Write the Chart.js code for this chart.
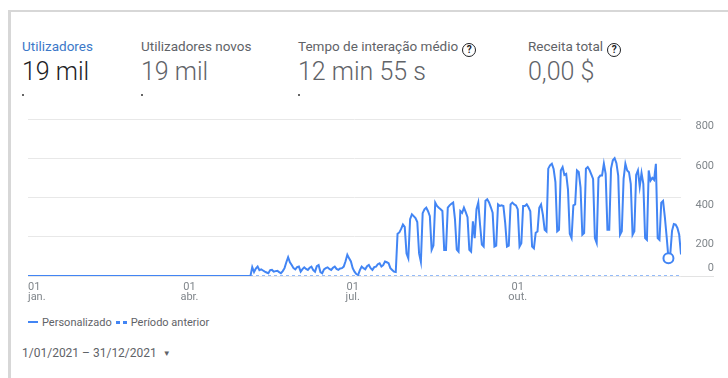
<!DOCTYPE html>
<html lang="pt">
<head>
<meta charset="utf-8">
<script src="https://cdn.jsdelivr.net/npm/chart.js@4.4.1/dist/chart.umd.min.js"></script>
<style>
  html, body { margin: 0; padding: 0; background: #fff; }
  body { width: 728px; height: 378px; position: relative; overflow: hidden; font-family: Roboto, 'Noto Sans', sans-serif; }
  .card { position: absolute; left: 8px; top: 10px; width: 760px; height: 400px; border-top: 2px solid #d7d7d7; border-left: 3px solid #d7d7d7; }
  .kpi { position: absolute; }
  .kpi .t { position: absolute; top: 28px; white-space: nowrap; font-size: 13.5px; line-height: 16px; color: #5f6368; }
  .kpi .v { position: absolute; top: 47px; white-space: nowrap; font-size: 25px; line-height: 30px; font-weight: 300; color: #5f6368; }
  .kpi .d { position: absolute; top: 84px; width: 2px; height: 2px; background: #666; }
  .kpi.on .t { color: #3c78c8; }
  .kpi.on .v { color: #202124; }
  .help { display: inline-block; width: 12px; height: 12px; border: 1.6px solid #202124; border-radius: 50%;
          font-size: 10px; line-height: 12px; text-align: center; font-weight: 700; color: #202124; margin-left: 4px; vertical-align: -2px; }
  #wrap { position: absolute; left: 0; top: 100px; width: 728px; height: 212px; }
  .legend { position: absolute; left: 28px; top: 316px; font-size: 11px; line-height: 14px; color: #5f6368; white-space: nowrap; }
  .sw { display: inline-block; vertical-align: middle; margin-right: 4px; position: relative; top: -1px; }
  .sw.solid { width: 10px; height: 2px; background: #4285f4; }
  .sw.dash { width: 11px; height: 3px; background: linear-gradient(90deg, #4285f4 0 4px, transparent 4px 7px, #4285f4 7px 11px); margin-left: 4px; }
  .range { position: absolute; left: 22px; top: 346px; font-size: 12px; line-height: 14px; color: #5f6368; white-space: nowrap; }
  .range .arr { font-size: 8px; margin-left: 6px; vertical-align: 1px; }
</style>
</head>
<body>
<div class="card"></div>

<div class="kpi on" style="left:22px;top:10px"><div class="t">Utilizadores</div><div class="v">19 mil</div><div class="d"></div></div>
<div class="kpi" style="left:141px;top:10px"><div class="t">Utilizadores novos</div><div class="v">19 mil</div><div class="d"></div></div>
<div class="kpi" style="left:298px;top:10px"><div class="t">Tempo de interação médio<span class="help">?</span></div><div class="v">12 min 55 s</div><div class="d"></div></div>
<div class="kpi" style="left:528px;top:10px"><div class="t">Receita total<span class="help">?</span></div><div class="v">0,00 $</div></div>

<div id="wrap"><canvas id="c"></canvas></div>

<div class="legend"><span class="sw solid"></span>Personalizado<span class="sw dash"></span>Período anterior</div>
<div class="range">1/01/2021 – 31/12/2021<span class="arr">▼</span></div>

<script>
// daily users, 1 Jan 2021 .. 31 Dec 2021 (365 days)
const USERS = [
  // jan - early may: no traffic
  0,0,0,0,0,0,0,0,0,0,0,0,0,0,0,0,0,0,0,0,0,0,0,0,0,
  0,0,0,0,0,0,0,0,0,0,0,0,0,0,0,0,0,0,0,0,0,0,0,0,0,
  0,0,0,0,0,0,0,0,0,0,0,0,0,0,0,0,0,0,0,0,0,0,0,0,0,
  0,0,0,0,0,0,0,0,0,0,0,0,0,0,0,0,0,0,0,0,0,0,0,0,0,
  0,0,0,0,0,0,0,0,0,0,0,0,0,0,0,0,0,0,0,0,0,0,0,0,0,
  // may - jul
  45,20,38,48,30,34,28,22,18,14,
  30,31,22,25,27,20,14,25,40,70,
  96,70,56,40,34,45,48,22,35,44,
  36,31,42,48,30,22,50,56,20,14,
  34,40,44,36,31,42,48,36,31,38,
  40,48,75,108,90,74,40,22,10,5,
  30,48,40,34,50,56,40,31,45,48,
  60,65,48,55,74,70,65,40,31,22,
  20,
  // weeks from 26 jul (mon..sun)
  215,222,240,262,250,115,90,
  290,314,305,295,275,115,72,
  320,340,348,330,305,133,155,
  374,357,348,340,331,133,133,
  348,360,368,374,290,135,124,
  331,322,348,325,300,133,124,
  279,193,340,374,260,160,150,
  383,391,375,350,322,150,155,
  365,357,360,357,271,150,155,
  365,374,365,360,340,150,167,
  357,357,365,350,330,150,141,
  220,227,347,364,313,236,227,
  547,564,572,545,478,228,236,
  538,555,515,520,440,215,193,
  360,365,538,530,450,210,219,
  547,555,540,518,495,193,168,
  500,512,512,572,520,236,236,
  547,590,600,575,512,210,228,
  495,572,538,529,470,210,228,
  515,538,455,525,470,193,184,
  538,486,500,490,572,193,184,
  374,383,300,200,90,108,230,
  265,262,245,210,110
];

// previous period (2020): nothing
const PREVIOUS = [
  0,0,0,0,0,0,0,0,0,0,0,0,0,0,0,0,0,0,0,0,0,0,0,0,0,0,0,0,0,0,0,0,0,0,0,0,0,0,0,0,0,0,0,0,0,0,0,0,0,0,
  0,0,0,0,0,0,0,0,0,0,0,0,0,0,0,0,0,0,0,0,0,0,0,0,0,0,0,0,0,0,0,0,0,0,0,0,0,0,0,0,0,0,0,0,0,0,0,0,0,0,
  0,0,0,0,0,0,0,0,0,0,0,0,0,0,0,0,0,0,0,0,0,0,0,0,0,0,0,0,0,0,0,0,0,0,0,0,0,0,0,0,0,0,0,0,0,0,0,0,0,0,
  0,0,0,0,0,0,0,0,0,0,0,0,0,0,0,0,0,0,0,0,0,0,0,0,0,0,0,0,0,0,0,0,0,0,0,0,0,0,0,0,0,0,0,0,0,0,0,0,0,0,
  0,0,0,0,0,0,0,0,0,0,0,0,0,0,0,0,0,0,0,0,0,0,0,0,0,0,0,0,0,0,0,0,0,0,0,0,0,0,0,0,0,0,0,0,0,0,0,0,0,0,
  0,0,0,0,0,0,0,0,0,0,0,0,0,0,0,0,0,0,0,0,0,0,0,0,0,0,0,0,0,0,0,0,0,0,0,0,0,0,0,0,0,0,0,0,0,0,0,0,0,0,
  0,0,0,0,0,0,0,0,0,0,0,0,0,0,0,0,0,0,0,0,0,0,0,0,0,0,0,0,0,0,0,0,0,0,0,0,0,0,0,0,0,0,0,0,0,0,0,0,0,0,
  0,0,0,0,0,0,0,0,0,0,0,0,0,0,0
];

const TICK_DAYS = [0, 90, 181, 273];
const TICK_LABELS = [['01', 'jan.'], ['01', 'abr.'], ['01', 'jul.'], ['01', 'out.']];
const Y_TICKS = [0, 200, 400, 600, 800];
const MARK_DAY = 357; // hollow marker (24 dez)

const BLUE = '#4285f4';
const TXT = '#80868b';

const tickPlugin = {
  id: 'ticks',
  afterDraw(ch) {
    const c = ch.ctx, xs = ch.scales.x, ys = ch.scales.y, ca = ch.chartArea;
    c.save();
    c.font = "11px Roboto, 'Noto Sans', sans-serif";
    c.fillStyle = TXT;
    // y labels, right side
    c.textAlign = 'right';
    Y_TICKS.forEach(v => {
      const y = ys.getPixelForValue(v);
      if (v === 0) { c.textBaseline = 'bottom'; c.fillText(String(v), 714, y - 2); }
      else { c.textBaseline = 'top'; c.fillText(String(v), 714, y + 2); }
    });
    // baseline runs under the "0"
    c.strokeStyle = '#e3e3e3'; c.lineWidth = 1;
    const y0 = Math.round(ys.getPixelForValue(0)) + 0.5;
    c.beginPath(); c.moveTo(ca.right, y0); c.lineTo(714, y0); c.stroke();
    // x labels
    c.textBaseline = 'middle';
    TICK_DAYS.forEach((d, i) => {
      const x = xs.getPixelForValue(d);
      c.textAlign = i === 0 ? 'left' : 'center';
      c.fillText(TICK_LABELS[i][0], x, ca.bottom + 11);
      c.fillText(TICK_LABELS[i][1], x, ca.bottom + 21.5);
    });
    c.restore();
  }
};

new Chart(document.getElementById('c'), {
  type: 'line',
  plugins: [tickPlugin],
  data: {
    datasets: [
      {
        label: 'Personalizado',
        data: USERS.map((v, i) => ({ x: i, y: v })),
        borderColor: BLUE, borderWidth: 2, tension: 0,
        pointRadius: ctx => ctx.dataIndex === MARK_DAY ? 5 : 0,
        pointBackgroundColor: '#fff', pointBorderColor: BLUE, pointBorderWidth: 2,
        fill: false
      },
      {
        label: 'Período anterior',
        data: PREVIOUS.map((v, i) => ({ x: i, y: v })),
        borderColor: 'rgba(66,133,244,0.75)', borderWidth: 1.5, borderDash: [3, 3],
        pointRadius: 0, tension: 0, fill: false
      }
    ]
  },
  options: {
    responsive: true, maintainAspectRatio: false,
    animation: false,
    layout: { padding: { left: 28, top: 19, right: 0, bottom: 0 } },
    scales: {
      x: {
        type: 'linear', min: 0, max: USERS.length - 1,
        grid: { display: false, drawTicks: false },
        border: { display: false },
        ticks: { display: false },
        afterFit: s => { s.height = 36; }
      },
      y: {
        position: 'right', min: 0, max: 800,
        grid: { color: '#e8e8e8', drawTicks: false },
        border: { display: false },
        ticks: { display: false, stepSize: 200 },
        afterFit: s => { s.width = 47; }
      }
    },
    plugins: { legend: { display: false }, tooltip: { enabled: false } }
  }
});
</script>
</body>
</html>
